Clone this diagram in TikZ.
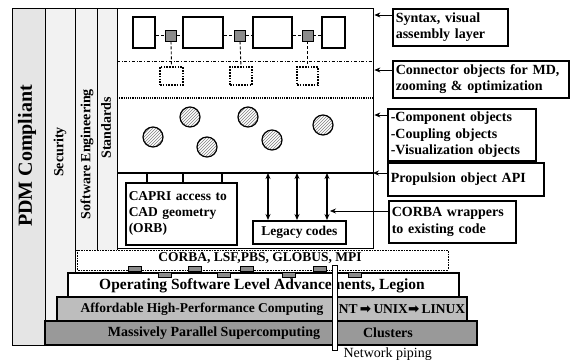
\documentclass[tikz,border=0pt]{standalone}
\usepackage{fontspec}
\setmainfont{Liberation Serif}
\newfontfamily\arrowfont{DejaVu Sans}
\usetikzlibrary{calc, positioning}
\usetikzlibrary{arrows.meta}
\usetikzlibrary{patterns}

\definecolor{pdmgray}{gray}{0.90}
\definecolor{colgray}{gray}{0.95}
\definecolor{affgray}{gray}{0.74}
\definecolor{masgray}{gray}{0.60}
\definecolor{tabgray}{gray}{0.55}

\begin{document}
\begin{tikzpicture}[x=1pt, y=-1pt,
  txt/.style={font=\bfseries\fontsize{13.5}{16}\selectfont},
  bigtxt/.style={font=\bfseries\fontsize{14}{16.5}\selectfont},
  side/.style={rotate=90, font=\bfseries\fontsize{14}{16}\selectfont},
  lbl/.style={draw, line width=1.5pt, fill=white, anchor=north west, align=left,
    inner xsep=3pt, inner ysep=2pt, txt},
  asm/.style={draw, line width=1.6pt, fill=white, inner sep=0pt},
  conn/.style={draw, line width=0.8pt, fill=tabgray, inner sep=0pt, minimum size=11pt},
  opt/.style={draw, dash pattern=on 1.6pt off 1.2pt, line width=1.4pt, fill=white, inner sep=0pt},
  comp/.style={circle, draw, line width=1.2pt, minimum size=20pt, inner sep=0pt,
    pattern=north east lines, pattern color=gray},
  link/.style={densely dashed, line width=0.9pt},
  ptr/.style={-{Stealth[length=6pt, width=5pt]}, line width=0.7pt},
  dptr/.style={{Stealth[length=6pt, width=5pt]}-{Stealth[length=6pt, width=5pt]}, line width=1.2pt},
  tab/.style={draw, line width=0.6pt, fill=tabgray}
]
\useasboundingbox[fill=white] (0,0) rectangle (573,362);

% columns on the left
\fill[pdmgray] (12,8) rectangle (45,345);
\draw[line width=0.6pt] (12,8) rectangle (45,345);
\draw[fill=colgray, line width=1pt] (45,8) rectangle (75,321);
\draw[fill=colgray, line width=1pt] (75,8) rectangle (97,250);
\draw[fill=colgray, line width=1pt] (97,8) rectangle (117,250);

\node[side, font=\bfseries\fontsize{20}{22}\selectfont] (pdm) at (27,156) {PDM Compliant};
\node[side] (sec) at (60,152) {Security};
\node[side] (swe) at (87,154) {Software Engineering};
\node[side] (std) at (106,128) {Standards};

% main box
\node[draw, line width=1.4pt, fill=white, minimum width=256pt, minimum height=240pt,
  anchor=north west, inner sep=0pt] (main) at (117,8) {};

\draw[dash dot, line width=0.9pt] (117,61) -- (373,61);
\draw[densely dotted, line width=1.2pt] (117,98) -- (373,98);

% visual assembly layer
\node[asm, minimum width=22pt, minimum height=31pt] (asm1) at (144,32.5) {};
\node[asm, minimum width=40pt, minimum height=31pt] (asm2) at (203,32.5) {};
\node[asm, minimum width=39pt, minimum height=31pt] (asm3) at (272.5,32.5) {};
\node[asm, minimum width=23pt, minimum height=31pt] (asm4) at (333.5,32.5) {};

\node[conn] (cn1) at (171,35.5) {};
\node[conn] (cn2) at (240,35.5) {};
\node[conn] (cn3) at (307.5,35.5) {};

\node[opt, minimum width=23pt, minimum height=18pt] (opt1) at (171.5,76) {};
\node[opt, minimum width=22pt, minimum height=18pt] (opt2) at (241,76) {};
\node[opt, minimum width=21pt, minimum height=18pt] (opt3) at (307.5,76) {};

\draw[link] (asm1.east |- cn1) -- (cn1.west);
\draw[link] (cn1.east) -- (asm2.west |- cn1);
\draw[link] (asm2.east |- cn2) -- (cn2.west);
\draw[link] (cn2.east) -- (asm3.west |- cn2);
\draw[link] (asm3.east |- cn3) -- (cn3.west);
\draw[link] (cn3.east) -- (asm4.west |- cn3);
\foreach \i in {1,2,3}
  \draw[link] (cn\i.south) -- (opt\i.north);

% component objects
\foreach \i/\p in {1/{153,137}, 2/{190,117}, 3/{207,147}, 4/{248,117}, 5/{272,140}, 6/{323,125}}
  \node[comp] (comp\i) at (\p) {};

% propulsion object API
\coordinate (busL) at (117,173);
\coordinate (busR) at (373,173);
\draw[line width=2pt] (busL) -- (busR);

\node[lbl, text width=105pt, minimum height=62pt] (capri) at (125,182)
  {CAPRI access to\\CAD geometry\\(ORB)};
\node[lbl, line width=1.8pt, minimum width=93pt, minimum height=23pt, align=center, inner ysep=0pt]
  (legacy) at (252,220) {Legacy codes};

\foreach \x in {147,183,222}
  \draw[line width=1.4pt] (\x,173) -- (capri.north -| \x,0);
\foreach \x in {268,297,327}
  \draw[dptr] (\x,173) -- (legacy.north -| \x,0);

% base layers
\draw[densely dotted, fill=white, line width=0.6pt] (77,250) rectangle (448,270);
\node[txt] (corba) at (260,258) {CORBA, LSF,PBS, GLOBUS, MPI};

\draw[fill=white, line width=1.2pt] (68,273) rectangle (459,297);
\node[font=\bfseries\fontsize{15.5}{17}\selectfont] (os) at (262,285.5)
  {Operating Software Level Advancements, Legion};

\draw[fill=affgray, line width=1.2pt] (57,297) rectangle (467,321);
\node[txt] (hpc) at (202,309) {Affordable High-Performance Computing};
\node[txt] (nt) at (402,309) {NT{\arrowfont\,➡\,}UNIX{\arrowfont➡\,}LINUX};

\draw[fill=masgray, line width=1.2pt] (45,321) rectangle (477,345);
\node[bigtxt] (mpp) at (214,333) {Massively Parallel Supercomputing};
\node[bigtxt] (clus) at (388,333) {Clusters};

\foreach \x in {128,188,240,313}
  \draw[tab] (\x,266) rectangle ++(13,5);
\foreach \x in {158,217,282,348}
  \draw[tab] (\x,272) rectangle ++(13,5);

% network piping
\draw[fill=white, line width=0.6pt] (332,265) rectangle (337,350);
\node[anchor=west, font=\fontsize{14}{16}\selectfont] (pipe) at (340,354) {Network piping};

% labels on the right
\node[lbl, bigtxt, text width=109pt, minimum height=37pt] (syntax) at (392,8)
  {Syntax, visual\\assembly layer};
\node[lbl, bigtxt, text width=170pt, minimum height=37pt] (connector) at (392,60)
  {Connector objects for MD,\\zooming \& optimization};
\node[lbl, bigtxt, text width=142pt, minimum height=52pt] (component) at (387,108)
  {-Component objects\\-Coupling objects\\-Visualization objects};
\node[lbl, bigtxt, text width=150pt, minimum height=33pt] (propulsion) at (387,162)
  {Propulsion object API};
\node[lbl, bigtxt, text width=121pt, minimum height=42pt] (wrappers) at (388,200)
  {CORBA wrappers\\to existing code};

\draw[ptr] ([yshift=-7pt]syntax.north west) coordinate (s1) -- (s1 -| main.east);
\draw[ptr] ([yshift=-10pt]connector.north west) coordinate (s2) -- (s2 -| main.east);
\draw[ptr] ([yshift=-7pt]component.north west) coordinate (s3) -- (s3 -| main.east);
\draw[ptr] (propulsion.west |- busR) -- (busR);
\coordinate (legtip) at (330,211);
\draw[ptr] (wrappers.west |- legtip) -- (legtip);
\end{tikzpicture}
\end{document}
